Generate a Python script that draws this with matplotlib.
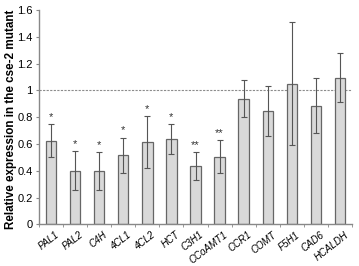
import matplotlib
matplotlib.use("Agg")
import matplotlib.pyplot as plt
import matplotlib.transforms as mtransforms
import numpy as np

genes = ["PAL1", "PAL2", "C4H", "4CL1", "4CL2", "HCT", "C3H1", "CCoAMT1",
         "CCR1", "COMT", "F5H1", "CAD6", "HCALDH"]
values = [0.625, 0.40, 0.395, 0.515, 0.615, 0.635, 0.435, 0.505,
          0.935, 0.845, 1.05, 0.885, 1.095]
err_low = [0.505, 0.255, 0.255, 0.38, 0.42, 0.528, 0.333, 0.383,
           0.80, 0.66, 0.59, 0.684, 0.91]
err_high = [0.748, 0.548, 0.538, 0.648, 0.81, 0.748, 0.538, 0.628,
            1.075, 1.035, 1.51, 1.09, 1.28]
stars = ["*", "*", "*", "*", "*", "*", "**", "**", "", "", "", "", ""]
yticks = [0, 0.2, 0.4, 0.6, 0.8, 1, 1.2, 1.4, 1.6]

plt.rcParams["font.family"] = ["Liberation Sans", "DejaVu Sans"]

fig = plt.figure(figsize=(3.59, 2.66), dpi=100)
ax = fig.add_axes([39 / 359, (266 - 224.3) / 266, 313 / 359, 214.3 / 266])

x = np.arange(len(genes))
vals = np.array(values)
yerr = [vals - np.array(err_low), np.array(err_high) - vals]

ax.bar(x, vals, width=0.43, color="#d9d9d9", edgecolor="#666666",
       linewidth=0.9, zorder=2)
ax.errorbar(x, vals, yerr=yerr, fmt="none", ecolor="#555555",
            elinewidth=0.8, capsize=2.2, capthick=0.8, zorder=3)

for xi, top, s in zip(x, err_high, stars):
    if s:
        ax.text(xi, top + 0.015, s, ha="center", va="bottom",
                fontsize=8, color="#333333")

ax.axhline(1.0, color="#8c8c8c", linestyle=(0, (2, 1.2)), linewidth=0.8,
           zorder=1)

ax.set_xlim(-0.5, len(genes) - 0.5)
ax.set_ylim(0, 1.6)
ax.set_yticks(yticks)
ax.set_yticklabels([f"{t:g}" for t in yticks], fontsize=8)

ax.set_xticks(x)
ax.set_xticklabels(genes, rotation=38, ha="right", rotation_mode="anchor",
                   fontsize=7, fontstyle="italic")
ax.tick_params(axis="x", length=0, pad=4)
shift = mtransforms.ScaledTranslation(4 / 100, 0, fig.dpi_scale_trans)
for lab in ax.get_xticklabels():
    lab.set_transform(lab.get_transform() + shift)
ax.set_xticks(np.arange(-0.5, len(genes), 1), minor=True)
ax.tick_params(axis="x", which="minor", length=2.5, color="#888888")
ax.tick_params(axis="y", length=2.5, color="#888888", pad=2)

for side in ["top", "right"]:
    ax.spines[side].set_visible(False)
for side in ["left", "bottom"]:
    ax.spines[side].set_color("#888888")
    ax.spines[side].set_linewidth(1.0)

fig.text(0.03, 0.55, "Relative expression in the cse-2 mutant",
         rotation=90, ha="center", va="center", fontsize=8.4,
         fontweight="bold")

fig.savefig("out.png", dpi=100)
